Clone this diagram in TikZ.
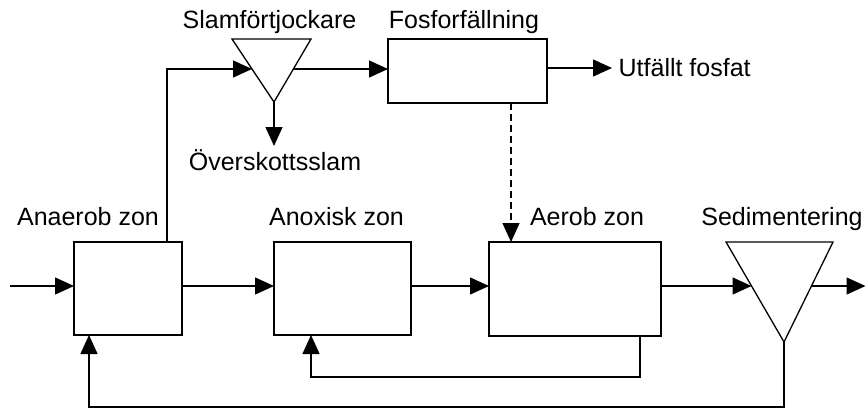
\documentclass[tikz,border=0pt]{standalone}
\usepackage{fontspec}
\setmainfont{Liberation Sans}
\usetikzlibrary{arrows.meta,calc}
\begin{document}
\begin{tikzpicture}[x=1pt,y=-1pt,line width=1.3pt,
  box/.style={draw,line width=1.3pt,inner sep=0pt,outer sep=0pt},
  arr/.style={-{Triangle[length=19pt,width=17pt]}},
  lbl/.style={inner sep=0pt,anchor=base,font=\fontsize{25}{30}\selectfont},
  dashline/.style={dash pattern=on 7pt off 4pt}]
\useasboundingbox (0,0) rectangle (866,409);
% boxes
\node[box,minimum width=108pt,minimum height=93pt] (anaerob) at (128,288.5) {};
\node[box,minimum width=137pt,minimum height=93pt] (anoxisk) at (342.5,288.5) {};
\node[box,minimum width=172pt,minimum height=94pt] (aerob) at (575,289) {};
\node[box,minimum width=159pt,minimum height=64pt] (fosfor) at (467.5,71) {};
% triangles
\coordinate (sedTL) at (726,242);
\coordinate (sedTR) at (833,242);
\coordinate (sedA) at (784,342);
\draw (sedTL) -- (sedTR) -- (sedA) -- cycle;
\coordinate (slTL) at (232,39);
\coordinate (slTR) at (311,39);
\coordinate (slA) at (274,102);
\draw (slTL) -- (slTR) -- (slA) -- cycle;
% helper coordinates
\coordinate (main) at (0,286);
\coordinate (in) at (10,286);
\coordinate (sedL) at (751.5,286);
\coordinate (sedR) at (811,286);
\coordinate (out) at (865.5,286);
\coordinate (slL) at (252,69);
\coordinate (slR) at (293,69);
\coordinate (up) at (167,69);
\coordinate (ovr) at (274,146);
\coordinate (ret) at (89,407);
\coordinate (inner) at (311,377);
\coordinate (innerR) at (640,377);
\coordinate (utf) at (612,68);
\coordinate (dash) at (511,0);
% labels
\node[lbl] (l1) at (88,225) {Anaerob zon};
\node[lbl] (l2) at (336.5,225) {Anoxisk zon};
\node[lbl] (l3) at (587,225) {Aerob zon};
\node[lbl] (l4) at (782,225) {Sedimentering};
\node[lbl] (l5) at (269.5,29) {Slamförtjockare};
\node[lbl] (l6) at (464,29) {Fosforfällning};
\node[lbl] (l7) at (275,170) {Överskottsslam};
\node[lbl,anchor=base west] (l8) at (618,77) {Utfällt fosfat};
% connectors
\draw[arr] (in) -- (anaerob.west |- in);
\draw[arr] (anaerob.east |- main) -- (anoxisk.west |- main);
\draw[arr] (anoxisk.east |- main) -- (aerob.west |- main);
\draw[arr] (aerob.east |- main) -- (sedL);
\draw[arr] (sedR) -- (out);
\draw[arr] (sedA) -- (sedA |- ret) -- (ret) -- (ret |- anaerob.south);
\draw[arr] (innerR |- aerob.south) -- (innerR) -- (inner) -- (inner |- anoxisk.south);
\draw[arr] (up |- anaerob.north) -- (up) -- (slL);
\draw[arr] (slR) -- (fosfor.west |- slR);
\draw[arr] (slA) -- (ovr);
\draw[arr] (fosfor.east |- utf) -- (utf);
\draw[arr,dashline] (dash |- fosfor.south) -- (dash |- aerob.north);
\end{tikzpicture}
\end{document}
